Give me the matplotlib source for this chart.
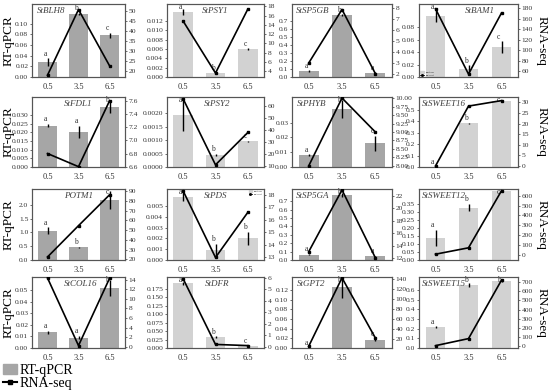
import numpy as np
import matplotlib.pyplot as plt
from matplotlib.patches import Patch
from matplotlib.lines import Line2D

plt.rcParams['font.family'] = ['Liberation Serif', 'DejaVu Serif']

# =========================
# DATA
# =========================
days = ["0.5", "3.5", "6.5"]

genes = ["StBLH8", "StPSY1", "StSP5GB", "StBAM1",
         "StFDL1", "StPSY2", "StPHYB", "StSWEET16",
         "POTM1", "StPDS", "StSP5GA", "StSWEET12",
         "StCOL16", "StDFR", "StGPT2", "StSWEET15"]

# RT-qPCR relative expression (bars)
rtqpcr = [
    [0.028, 0.118, 0.078], [0.0139, 0.00085, 0.0059], [0.072, 0.77, 0.052], [0.098, 0.0135, 0.048],
    [0.024, 0.0205, 0.0345], [0.00195, 0.00045, 0.00095], [0.008, 0.039, 0.016], [0.002, 0.38, 0.575],
    [1.07, 0.46, 2.17], [0.0059, 0.0009, 0.002], [0.065, 0.775, 0.045], [0.135, 0.325, 0.425],
    [0.0135, 0.009, 0.052], [0.19, 0.031, 0.006], [0.0, 0.127, 0.017], [0.215, 0.655, 0.69],
]
rtqpcr_err = [
    [0.007, 0.002, 0.005], [0.0006, 0.0001, 0.0002], [0.01, 0.01, 0.005], [0.01, 0.005, 0.009],
    [0.001, 0.0035, 0.0035], [0.0006, 0.00003, 0.00003], [0.0005, 0.006, 0.005], [0.001, 0.003, 0.003],
    [0.12, 0.02, 0.32], [0.0004, 0.0006, 0.0006], [0.01, 0.02, 0.005], [0.05, 0.022, 0.005],
    [0.0015, 0.0015, 0.007], [0.004, 0.003, 0.001], [0.0, 0.023, 0.002], [0.01, 0.02, 0.005],
]
letters = [
    "abc", "abc", "aba", "abc",
    "aab", "abc", "abc", "abc",
    "abc", "abb", "aba", "abc",
    "aab", "abc", "abc", "abb",
]

# RNA-seq values (line, right axis)
rnaseq = [
    [17.7, 50.8, 22.5], [14.8, 3.6, 17.4], [3.0, 7.85, 2.05], [179, 55, 171],
    [6.8, 6.6, 7.6], [66, 11, 38], [8.0, 10.0, 9.0], [0, 28.3, 30.9],
    [22.5, 54.5, 86], [18.3, 13.0, 16.6], [13.05, 22.9, 12.1], [5, 70, 650],
    [14.4, 0.2, 14.3], [5.9, 0.2, 0.1], [5, 143, 22], [0, 78, 725],
]

# =========================
# AXIS SETTINGS
# =========================
# left axis: (tick step, n ticks, decimals, top limit)
left_axis = [
    (0.02, 6, 2, 0.137), (0.002, 7, 3, 0.0156), (0.1, 8, 1, 0.91), (0.02, 5, 2, 0.117),
    (0.005, 7, 3, 0.0405), (0.0005, 5, 4, 0.0026), (0.01, 4, 2, 0.0472), (0.1, 6, 1, 0.61),
    (0.5, 5, 1, 2.58), (0.001, 6, 3, 0.0066), (0.1, 8, 1, 0.847), (0.05, 8, 2, 0.44),
    (0.01, 6, 2, 0.0615), (0.025, 8, 3, 0.209), (0.02, 7, 2, 0.147), (0.1, 7, 1, 0.734),
]
# right axis: (ymin, ymax, first tick, step, n ticks, decimals)
right_axis = [
    (16.8, 53.6, 20, 5, 7, 0), (2.75, 18.5, 4, 2, 8, 0), (1.74, 8.35, 2, 1, 7, 0), (49.5, 188, 60, 20, 7, 0),
    (6.595, 7.66, 6.6, 0.2, 6, 1), (9.2, 67.6, 10, 10, 6, 0), (7.97, 10.03, 8, 0.25, 9, 2), (-0.5, 32.6, 0, 5, 7, 0),
    (19.4, 92, 20, 10, 8, 0), (12.8, 18.46, 13, 1, 6, 0), (11.74, 23.05, 12, 2, 6, 0), (-54, 668, 0, 100, 7, 0),
    (-0.3, 14.6, 0, 2, 8, 0), (-0.11, 6.06, 0, 1, 7, 0), (1.7, 144.7, 20, 20, 7, 0), (-26, 760, 0, 100, 8, 0),
]
# title placement inside panel (x in axes coords, alignment)
title_pos = [
    (0.05, "left"), (0.5, "center"), (0.04, "left"), (0.62, "center"),
    (0.5, "center"), (0.52, "center"), (0.05, "left"), (0.03, "left"),
    (0.5, "center"), (0.5, "center"), (0.04, "left"), (0.03, "left"),
    (0.52, "center"), (0.52, "center"), (0.05, "left"), (0.03, "left"),
]

W, H = 550, 390
cols = [(32, 125), (167, 264), (292, 392), (419, 518)]
rows = [(4, 77), (97, 167), (189, 260), (277, 348)]
dark_bar = "#a6a6a6"
light_bar = "#d2d2d2"
frame = "#555555"

fig = plt.figure(figsize=(5.5, 3.9), dpi=100)

x = np.arange(3)
for i, gene in enumerate(genes):
    r, c = divmod(i, 4)
    l, rr = cols[c]
    t, b = rows[r]
    ax = fig.add_axes([l / W, 1 - b / H, (rr - l) / W, (b - t) / H])
    ax2 = ax.twinx()

    color = dark_bar if c % 2 == 0 else light_bar
    ax.bar(x, rtqpcr[i], width=0.6, color=color, zorder=1)
    ax.errorbar(x, rtqpcr[i], yerr=rtqpcr_err[i], fmt="none", ecolor="black",
                elinewidth=1.0, capsize=0, zorder=2)

    step, n, dec, top = left_axis[i]
    ax.set_ylim(0, top)
    ticks = [k * step for k in range(n)]
    ax.set_yticks(ticks)
    ax.set_yticklabels([f"{v:.{dec}f}" for v in ticks])
    for k in range(3):
        ly = min(rtqpcr[i][k] + rtqpcr_err[i][k] + top * 0.01, top * 0.9)
        ax.text(x[k] - 0.08, ly, letters[i][k],
                ha="center", va="bottom", fontsize=5.5, color="#333333")

    ymin, ymax, t0, rstep, rn, rdec = right_axis[i]
    ax2.plot(x, rnaseq[i], color="black", lw=1.2, marker="s", ms=1.8, zorder=3)
    ax2.set_ylim(ymin, ymax)
    rticks = [t0 + k * rstep for k in range(rn)]
    ax2.set_yticks(rticks)
    ax2.set_yticklabels([f"{v:.{rdec}f}" for v in rticks])

    ax.set_xlim(-0.5, 2.5)
    ax.set_xticks(x)
    ax.set_xticklabels(days)
    for a in (ax, ax2):
        a.tick_params(labelsize=5.4, length=1.5, width=0.5, pad=1.2, colors="#333333")
        for s in a.spines.values():
            s.set_color(frame)
            s.set_linewidth(0.8)
    ax.tick_params(axis="x", length=0, pad=4, labelsize=6)

    tx, ha = title_pos[i]
    ax.text(tx, 0.96, gene, transform=ax.transAxes, ha=ha, va="top",
            fontsize=6.5, style="italic", color="#404040")

    # tiny in-panel legends as in the source figure
    if gene in ("StBAM1", "StPDS"):
        h = [Patch(color=color), Line2D([], [], color="black", marker="s", ms=1, lw=0.6)]
        loc = "lower left" if gene == "StBAM1" else "upper right"
        ax.legend(h, ["RT-qPCR", "RNA-seq"], loc=loc, fontsize=1.6, frameon=False,
                  handlelength=1.5, borderaxespad=0.2)

for r, (t, b) in enumerate(rows):
    yc = 1 - (t + b) / 2 / H
    fig.text(9 / W, yc, "RT-qPCR", rotation=90, ha="center", va="center", fontsize=9.5)
    fig.text(542 / W, yc, "RNA-seq", rotation=270, ha="center", va="center", fontsize=9.5)

handles = [Patch(color=dark_bar), Line2D([], [], color="black", marker="s", ms=3.5, lw=1.5)]
fig.legend(handles, ["RT-qPCR", "RNA-seq"], loc="upper left", bbox_to_anchor=(0.0, 0.075),
           frameon=False, fontsize=10, handlelength=1.0, handletextpad=0.2,
           labelspacing=0.05, borderaxespad=0.1, borderpad=0.1)

fig.savefig("out.png", dpi=100)
